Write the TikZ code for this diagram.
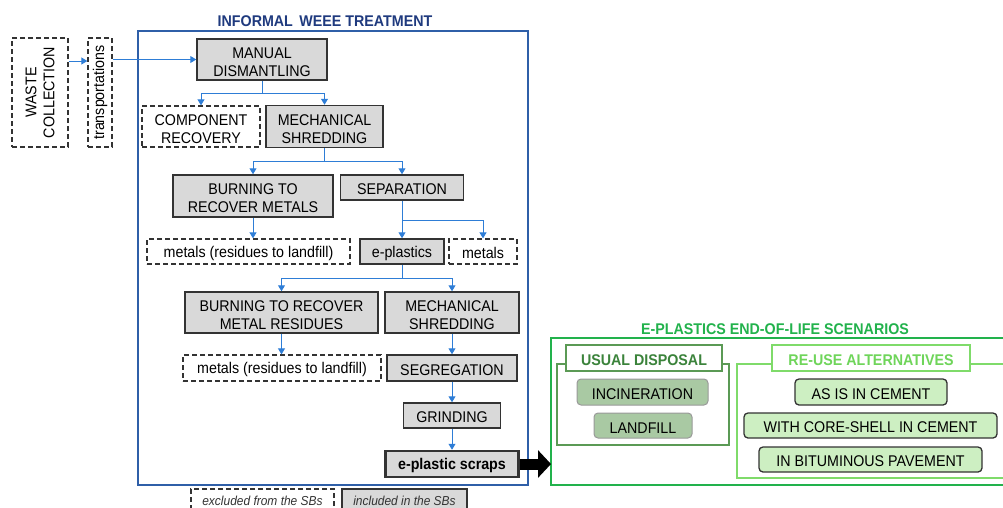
\documentclass[tikz,border=0pt]{standalone}
\usepackage{fontspec}
\setmainfont[FakeStretch=0.92]{Liberation Sans}
\usetikzlibrary{arrows.meta,calc}
\definecolor{boxline}{HTML}{333333}
\definecolor{boxfill}{HTML}{D9D9D9}
\definecolor{flowblue}{HTML}{2E7DD6}
\definecolor{frameblue}{HTML}{2F5FA8}
\definecolor{titlenavy}{HTML}{1F3A7E}
\definecolor{eolgreen}{HTML}{22B24C}
\definecolor{usualgreen}{HTML}{5B9A55}
\definecolor{usualtext}{HTML}{3B833B}
\definecolor{reusegreen}{HTML}{7FDB6A}
\definecolor{reusetext}{HTML}{6FD55A}
\definecolor{usualfill}{HTML}{A9C9A3}
\definecolor{reusefill}{HTML}{CDEFC2}
\newcommand\lostrut{\rule{0pt}{16pt}}
\begin{document}
\begin{tikzpicture}[x=1pt,y=-1pt,
  txt/.style={font=\fontsize{15.5}{18}\selectfont, align=center, inner sep=0pt},
  lo/.style={execute at begin node={\rule{0pt}{15pt}}},
  inbox/.style={txt, lo, draw=boxline, line width=1.5pt, fill=boxfill},
  exbox/.style={txt, lo, draw=boxline, line width=1.3pt, dash pattern=on 5pt off 3pt, fill=white},
  flow/.style={draw=flowblue, line width=1pt, -{Triangle[length=6pt,width=7pt]}},
  branch/.style={draw=flowblue, line width=1pt},
  sz/.style 2 args={minimum width=#1, minimum height=#2},
  ttl/.style={font=\fontsize{15.5}{17}\selectfont\bfseries, inner sep=0pt},
  usual/.style={txt, lo, draw=gray!80, line width=1pt, fill=usualfill, rounded corners=4pt},
  reuse/.style={txt, lo, draw=boxline, line width=1.3pt, fill=reusefill, rounded corners=4pt},
  legend/.style={font=\fontsize{13}{14}\selectfont\itshape, text=black!80, inner sep=0pt}
]
\useasboundingbox (0,0) rectangle (1003,507);
\clip (0,0) rectangle (1003,507);

% informal treatment frame
\node[ttl, text=titlenavy] (informaltitle) at (325,21) {INFORMAL\, WEEE TREATMENT};
\draw[frameblue, line width=2pt] (138,31) rectangle (528,485);

% left part
\node[exbox, sz={56}{109}] (waste) at (40,92.5) {};
\node[txt, rotate=90] (wastetxt) at (waste.center) {WASTE\\COLLECTION};
\node[exbox, sz={24}{109}] (trans) at (100,92.5) {};
\node[txt, rotate=90] (transtxt) at (trans.center) {transportations};

% process boxes
\node[inbox, sz={130}{41}] (manual) at (262,59.5) {\lostrut MANUAL\\DISMANTLING};
\node[exbox, sz={118}{41}] (comp) at (201,126.5) {\lostrut COMPONENT\\RECOVERY};
\node[inbox, sz={117}{42}] (mech1) at (324.5,126.5) {\lostrut MECHANICAL\\SHREDDING};
\node[inbox, sz={160}{42}] (burn1) at (253,196) {\lostrut BURNING TO\\RECOVER METALS};
\node[inbox, sz={123}{25}] (sep) at (402,187.5) {SEPARATION};
\node[exbox, sz={203}{25}] (metals1) at (248.5,251.5) {metals (residues to landfill)};
\node[inbox, sz={84}{25}] (eplast) at (402,251.5) {e-plastics};
\node[exbox, sz={68}{25}] (metals2) at (483,251.5) {metals};
\node[inbox, sz={193}{41}] (burn2) at (281.5,312.5) {\lostrut BURNING TO RECOVER\\METAL RESIDUES};
\node[inbox, sz={134}{41}] (mech2) at (452,312.5) {\lostrut MECHANICAL\\SHREDDING};
\node[exbox, sz={198}{26}] (metals3) at (282,368) {metals (residues to landfill)};
\node[inbox, sz={130}{26}] (segr) at (452,368) {SEGREGATION};
\node[inbox, sz={97}{25}] (grind) at (452,415.5) {GRINDING};
\node[inbox, sz={133}{26}, line width=2.5pt, font=\fontsize{15.5}{18}\selectfont\bfseries] (scraps) at (452,464) {e-plastic scraps};

% connectors
\draw[flow] ($(waste.east)+(0,-31.5)$) -- ($(trans.west)+(0,-31.5)$);
\draw[flow] (trans.east |- manual.west) -- (manual.west);

\draw[branch] (manual.south) -- (manual.south |- 0,93) coordinate (b1);
\draw[flow] (b1) -| (comp.north);
\draw[flow] (b1) -| (mech1.north);

\draw[branch] (mech1.south) -- (mech1.south |- 0,161) coordinate (b2);
\draw[flow] (b2) -| (burn1.north);
\draw[flow] (b2) -| (sep.north);

\draw[flow] (burn1.south) -- (burn1.south |- metals1.north);

\draw[branch] (sep.south) -- (sep.south |- 0,220) coordinate (b3);
\draw[flow] (b3) -- (eplast.north);
\draw[flow] (b3) -| (metals2.north);

\draw[branch] (eplast.south) -- (eplast.south |- 0,278) coordinate (b4);
\draw[flow] (b4) -| (burn2.north);
\draw[flow] (b4) -| (mech2.north);

\draw[flow] (burn2.south) -- (burn2.south |- metals3.north);
\draw[flow] (mech2.south) -- (segr.north);
\draw[flow] (segr.south) -- (grind.north);
\draw[flow] (grind.south) -- (scraps.north);

% end-of-life scenarios
\node[ttl, text=eolgreen] (eoltitle) at (775,329) {E-PLASTICS END-OF-LIFE SCENARIOS};
\draw[eolgreen, line width=2pt] (551,338) rectangle (1012,485);
\coordinate (eolwest) at (551,464);
\draw[black, line width=11pt, -{Triangle[length=13pt,width=27pt]}] (scraps.east) -- (eolwest);

\draw[usualgreen, line width=2pt] (557,364) rectangle (729,445);
\node[ttl, lo, text=usualtext, draw=usualgreen, line width=2pt, fill=white, sz={156}{26}] (usualtitle) at (644,358) {USUAL DISPOSAL};
\node[usual, sz={131}{26}] (incin) at (642.5,392) {INCINERATION};
\node[usual, sz={98}{25}] (landfill) at (643,425.5) {LANDFILL};

\draw[reusegreen, line width=1.5pt] (737,364) rectangle (1012,478);
\node[ttl, lo, text=reusetext, draw=reusegreen, line width=2pt, fill=white, sz={198}{26}] (reusetitle) at (871,358) {RE-USE ALTERNATIVES};
\node[reuse, sz={152}{26}] (asis) at (871,392) {AS IS IN CEMENT};
\node[reuse, sz={253}{25}] (core) at (870.5,425.5) {WITH CORE-SHELL IN CEMENT};
\node[reuse, sz={223}{25}] (bitum) at (870.5,459.5) {IN BITUMINOUS PAVEMENT};

% legend
\node[exbox, sz={143}{26}] (legex) at (262.5,502) {};
\node[legend, anchor=base] (legextxt) at (262.5,505) {excluded from the SBs};
\node[inbox, sz={125}{26}] (legin) at (404.5,502) {};
\node[legend, anchor=base] (legintxt) at (404.5,505) {included in the SBs};
\end{tikzpicture}
\end{document}
